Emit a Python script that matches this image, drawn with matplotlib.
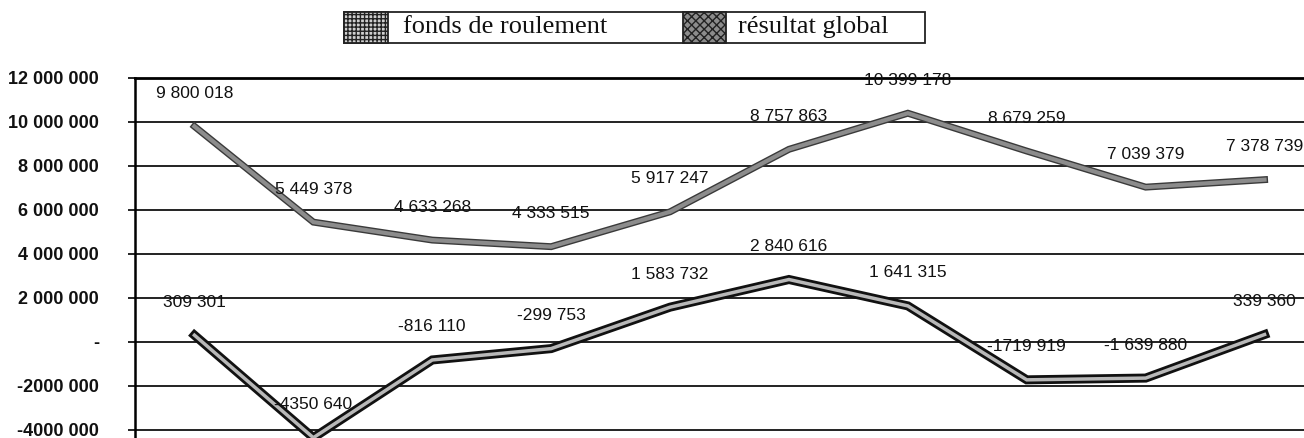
import matplotlib.pyplot as plt
import matplotlib.patheffects as pe
from matplotlib.patches import Rectangle

# data
fonds = [9800018, 5449378, 4633268, 4333515, 5917247, 8757863, 10399178, 8679259, 7039379, 7378739]
resultat = [309301, -4350640, -816110, -299753, 1583732, 2840616, 1641315, -1719919, -1639880, 339360]
fonds_txt = ["9 800 018", "5 449 378", "4 633 268", "4 333 515", "5 917 247",
             "8 757 863", "10 399 178", "8 679 259", "7 039 379", "7 378 739"]
resultat_txt = ["309 301", "-4350 640", "-816 110", "-299 753", "1 583 732",
                "2 840 616", "1 641 315", "-1719 919", "-1 639 880", "339 360"]
yticks = [-4000000, -2000000, 0, 2000000, 4000000, 6000000, 8000000, 10000000, 12000000]
ytick_labels = ["-4000 000", "-2000 000", "-", "2 000 000", "4 000 000",
                "6 000 000", "8 000 000", "10 000 000", "12 000 000"]
series_names = ["fonds de roulement", "résultat global"]

W, H = 1304, 438
fig = plt.figure(figsize=(W / 100, H / 100), dpi=100)
# plot area runs off the right and bottom edges like the scanned original
ax = fig.add_axes([135 / W, (H - 452) / H, 1189 / W, (452 - 78) / H])

x = list(range(len(fonds)))
ax.plot(x, fonds, color="#8c8c8c", lw=3, solid_joinstyle="miter", zorder=3,
        path_effects=[pe.Stroke(linewidth=5, foreground="#3a3a3a"), pe.Normal()])
ax.plot(x, resultat, color="#b8b8b8", lw=2.5, solid_joinstyle="miter", zorder=3,
        path_effects=[pe.Stroke(linewidth=6.5, foreground="#111111"), pe.Normal()])

# data labels sit about 33px above each point
lab_font = dict(family=["Liberation Sans", "DejaVu Sans"], fontsize=12.5, color="#111111")
for i in x:
    ax.annotate(fonds_txt[i], (i, fonds[i]), xytext=(0, 33), textcoords="offset pixels",
                ha="center", va="center", zorder=4, **lab_font)
    ax.annotate(resultat_txt[i], (i, resultat[i]), xytext=(0, 33), textcoords="offset pixels",
                ha="center", va="center", zorder=4, **lab_font)

ax.set_xlim(-0.5, 9.5)
ax.set_ylim(-5000000, 12000000)
ax.set_yticks(yticks)
ax.set_yticklabels(ytick_labels, family=["Liberation Sans", "DejaVu Sans"],
                   fontsize=13, fontweight="bold", color="#111111")
ax.tick_params(axis="y", length=5, width=1.2, color="black", pad=21)
ax.set_xticks([])
ax.grid(axis="y", color="#111111", lw=1.3)
ax.set_axisbelow(True)
for s in ["right", "bottom"]:
    ax.spines[s].set_visible(False)
ax.spines["left"].set_linewidth(1.8)
ax.spines["top"].set_linewidth(2)

# legend box drawn by hand
def px(xp, yp):
    return xp / W, 1 - yp / H

fig.add_artist(Rectangle(px(344, 43), 581 / W, 31 / H, transform=fig.transFigure,
                         facecolor="white", edgecolor="#222222", lw=1.3))
fig.add_artist(Rectangle(px(344, 43), 44 / W, 31 / H, transform=fig.transFigure,
                         facecolor="#cfcfcf", edgecolor="#222222", hatch="++++", lw=1.3))
fig.add_artist(Rectangle(px(683, 43), 43 / W, 31 / H, transform=fig.transFigure,
                         facecolor="#8c8c8c", edgecolor="#222222", hatch="xxxx", lw=1.3))
leg_font = dict(family=["Liberation Serif", "DejaVu Serif"], fontsize=19, color="#111111",
                va="center", ha="left")
fig.text(*px(403, 27), series_names[0], **leg_font)
fig.text(*px(738, 27), series_names[1], **leg_font)

fig.savefig("out.png", dpi=100)
